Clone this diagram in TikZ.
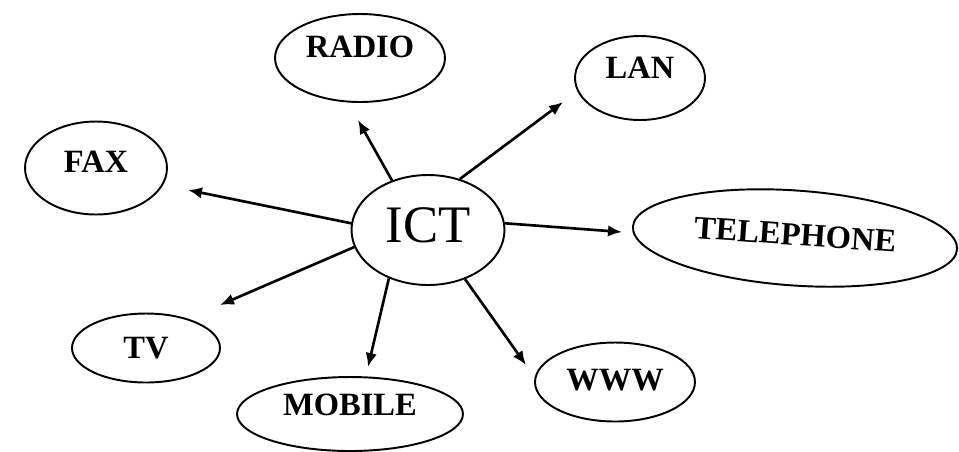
\documentclass[tikz,border=0pt]{standalone}
\usepackage{fontspec}
\setmainfont{Liberation Serif}
\usepackage{tikz}
\usetikzlibrary{shapes,arrows.meta,positioning,calc}

\begin{document}
\begin{tikzpicture}[x=0.02cm,y=-0.02cm,
  bubble/.style={ellipse,draw,line width=1.1pt,inner sep=0pt,font=\fontsize{18.5}{22}\selectfont\bfseries},
  hub/.style={bubble,font=\fontsize{30}{36}\selectfont},
  link/.style={line width=1.5pt,-{Latex[length=0.28cm,width=0.23cm]}}
]
  \useasboundingbox (0,0) rectangle (959,451);
  \node[hub,minimum width=3.06cm,minimum height=2.2cm,text depth=0.18cm] (ict) at (428,230) {ICT};
  \node[bubble,minimum width=3.4cm,minimum height=1.76cm,text depth=0.46cm] (radio) at (360,58) {RADIO};
  \node[bubble,minimum width=2.6cm,minimum height=1.68cm,text depth=0.4cm] (lan) at (640,78) {LAN};
  \node[bubble,minimum width=2.84cm,minimum height=1.86cm,text depth=0.24cm] (fax) at (96,168) {FAX};
  \node[bubble,minimum width=6.5cm,minimum height=1.9cm,rotate=-4,text depth=0.14cm] (tel) at (795,238) {TELEPHONE};
  \node[bubble,minimum width=2.96cm,minimum height=1.38cm] (tv) at (146,348) {TV};
  \node[bubble,minimum width=4.52cm,minimum height=1.48cm,text depth=0.38cm] (mob) at (350,414) {MOBILE};
  \node[bubble,minimum width=3.2cm,minimum height=1.58cm,text depth=0.08cm] (www) at (615,382) {WWW};
  % arrow tips stop short of the bubbles
  \coordinate (radio-tip) at (358,120);
  \coordinate (lan-tip) at (563,102);
  \coordinate (fax-tip) at (188,190);
  \coordinate (tel-tip) at (622,232);
  \coordinate (tv-tip) at (220,305);
  \coordinate (mob-tip) at (368,367);
  \coordinate (www-tip) at (526,365);
  \draw[link] (ict.126) -- (radio-tip);
  \draw[link] (ict.58)  -- (lan-tip);
  \draw[link] (ict.175) -- (fax-tip);
  \draw[link] (ict.5)   -- (tel-tip);
  \draw[link] (ict.193) -- (tv-tip);
  \draw[link] (ict.231) -- (mob-tip);
  \draw[link] (ict.307) -- (www-tip);
\end{tikzpicture}
\end{document}
